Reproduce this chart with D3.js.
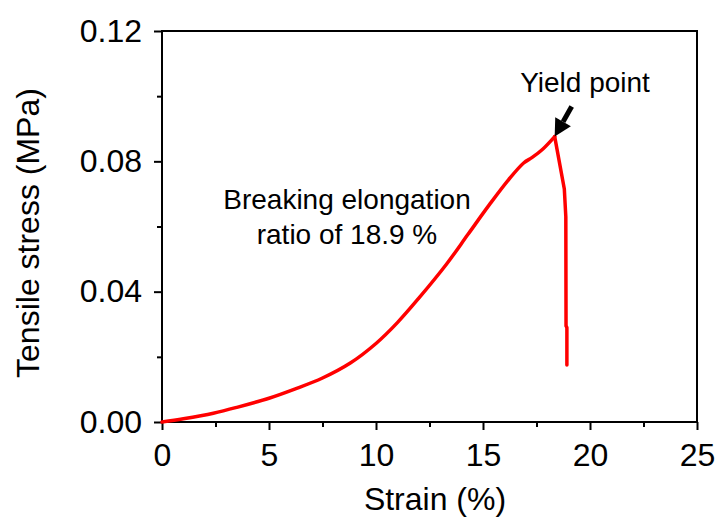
<!DOCTYPE html>
<html>
<head>
<meta charset="utf-8">
<script src="https://cdn.jsdelivr.net/npm/d3@7"></script>
<style>
  body { margin: 0; background: #fff; }
  text { font-family: "Liberation Sans", Arial, sans-serif; fill: #000; }
</style>
</head>
<body>
<svg id="chart" width="719" height="520"></svg>
<script>
// Tensile test curve
var strain = [0, 1, 2.4, 3.5, 5, 6.2, 7.5, 8.8, 10, 11, 12, 13.3, 14.3, 15.3, 16.2, 16.9, 17.3, 17.8, 18.35,
              18.8, 18.87, 18.88, 18.92, 18.92];
var stress = [0, 0.0010, 0.0027, 0.0045, 0.0073, 0.0101, 0.0135, 0.0181, 0.0241, 0.0305, 0.0380, 0.0485, 0.0576,
              0.0667, 0.0744, 0.0795, 0.0812, 0.0838, 0.0876,
              0.0715, 0.0630, 0.0295, 0.0290, 0.0175];
var yieldIndex = 18;
var xTicks = [0, 5, 10, 15, 20, 25];
var xMinor = [2.5, 7.5, 12.5, 17.5, 22.5];
var yTicks = [0, 0.04, 0.08, 0.12];
var yMinor = [0.02, 0.06, 0.10];
var noteLines = ['Breaking elongation', 'ratio of 18.9 %'];

var svg = d3.select('#chart');
// plot box edges (note: "top" is taken by window, so use other names)
var boxL = 162, boxR = 697, boxT = 31, boxB = 422;

var x = d3.scaleLinear().domain([0, 25]).range([boxL, boxR]);
var y = d3.scaleLinear().domain([0, 0.12]).range([boxB, boxT]);

// minor ticks first, majors drawn on top
svg.append('g').attr('transform', 'translate(0,' + boxB + ')')
  .call(d3.axisBottom(x).tickValues(xMinor).tickSize(5).tickFormat(''));
svg.append('g').attr('transform', 'translate(' + boxL + ',0)')
  .call(d3.axisLeft(y).tickValues(yMinor).tickSize(5).tickFormat(''));

svg.append('g').attr('transform', 'translate(0,' + boxB + ')')
  .call(d3.axisBottom(x).tickValues(xTicks).tickSize(8).tickSizeOuter(0).tickPadding(13).tickFormat(d3.format('d')));
svg.append('g').attr('transform', 'translate(' + boxL + ',0)')
  .call(d3.axisLeft(y).tickValues(yTicks).tickSize(8).tickSizeOuter(0).tickPadding(12).tickFormat(d3.format('.2f')));

svg.selectAll('.domain').remove();
svg.selectAll('.tick line').attr('stroke', '#000').attr('stroke-width', 2);
svg.selectAll('.tick text').style('font-size', '32px').style('font-family', '"Liberation Sans", Arial, sans-serif');

// frame
svg.append('rect')
  .attr('x', boxL).attr('y', boxT)
  .attr('width', boxR - boxL).attr('height', boxB - boxT)
  .attr('fill', 'none').attr('stroke', '#000').attr('stroke-width', 2);

// curve: smooth rise, straight drop after the yield point
var pts = strain.map(function(d, i) { return [d, stress[i]]; });
var rise = d3.line().x(function(d) { return x(d[0]); }).y(function(d) { return y(d[1]); })
  .curve(d3.curveCatmullRom.alpha(0.5));
var drop = d3.line().x(function(d) { return x(d[0]); }).y(function(d) { return y(d[1]); });

svg.append('path').datum(pts.slice(0, yieldIndex + 1))
  .attr('d', rise).attr('fill', 'none').attr('stroke', '#ff0000')
  .attr('stroke-width', 3.5).attr('stroke-linejoin', 'round').attr('stroke-linecap', 'round');
svg.append('path').datum(pts.slice(yieldIndex))
  .attr('d', drop).attr('fill', 'none').attr('stroke', '#ff0000')
  .attr('stroke-width', 3.5).attr('stroke-linejoin', 'round').attr('stroke-linecap', 'round');

// arrow pointing at the yield point
var tipX = x(strain[yieldIndex]), tipY = y(stress[yieldIndex]);
var dx = 17, dy = -30, len = Math.sqrt(dx * dx + dy * dy);
var ux = dx / len, uy = dy / len, px = -uy, py = ux;
var headLen = 17, headW = 9;
var bx = tipX + ux * headLen, by = tipY + uy * headLen;
svg.append('line')
  .attr('x1', bx).attr('y1', by).attr('x2', tipX + dx).attr('y2', tipY + dy)
  .attr('stroke', '#000').attr('stroke-width', 5);
svg.append('path')
  .attr('d', 'M' + tipX + ',' + tipY + 'L' + (bx + px * headW) + ',' + (by + py * headW) +
    'L' + (bx - px * headW) + ',' + (by - py * headW) + 'Z')
  .attr('fill', '#000');

svg.append('text').attr('x', 585).attr('y', 92).attr('text-anchor', 'middle')
  .style('font-size', '28px').text('Yield point');

svg.append('text').attr('text-anchor', 'middle').style('font-size', '28px')
  .selectAll('tspan').data(noteLines).enter().append('tspan')
  .attr('x', 347).attr('y', function(d, i) { return 209 + i * 35; })
  .text(function(d) { return d; });

// axis titles
svg.append('text').attr('x', 435).attr('y', 510).attr('text-anchor', 'middle')
  .style('font-size', '32px').text('Strain (%)');
svg.append('text').attr('transform', 'translate(39,233) rotate(-90)').attr('text-anchor', 'middle')
  .style('font-size', '32px').text('Tensile stress (MPa)');
</script>
</body>
</html>
